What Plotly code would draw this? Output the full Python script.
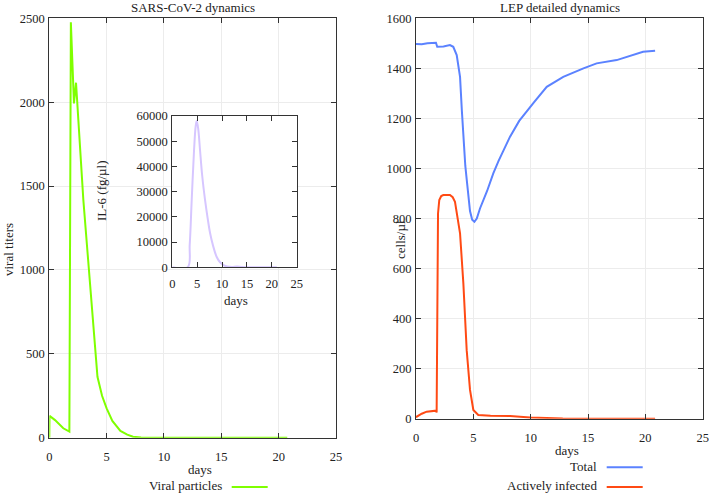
import plotly.graph_objects as go

# ---------------- data ----------------
days_vir = [0, 0.02, 0.5, 0.78, 1.22, 1.75, 1.88, 2.15, 2.33, 2.97, 3.4, 3.84, 4.2, 4.6,
            5.0, 5.5, 6.2, 6.8, 7.3, 8.0, 9.0, 12, 16, 20.75]
viral = [0, 130, 105, 86, 56, 36, 2476, 1993, 2116, 1416, 1059, 661, 363, 250,
         175, 100, 40, 18, 6, 1, 0, 0, 0, 0]

days_il6 = [0, 3.1, 3.5, 3.9, 4.37, 4.7, 4.9, 5.2, 5.57, 6.0, 6.58, 7.1, 7.6, 8.2,
            8.9, 9.6, 10.3, 11, 12, 13, 14, 16, 21]
il6 = [0, 0, 9000, 26700, 46500, 56000, 58000, 55000, 46500, 36500, 26700, 19500,
       13500, 8500, 4200, 2000, 900, 300, 100, 300, 100, 0, 0]

days_lep = [0, 0.5, 1.0, 1.74, 1.85, 2.4, 2.96, 3.25, 3.55, 3.84, 4.0, 4.13, 4.3, 4.48,
            4.71, 4.9, 5.09, 5.3, 5.58, 6.2, 6.74, 7.2, 7.62, 8.2, 9.0, 9.94, 10.3,
            11.4, 12.84, 14.6, 15.75, 17.5, 19.8, 20.85]
total = [1497, 1496, 1500, 1502, 1486, 1487, 1493, 1486, 1453, 1366, 1230, 1113, 1010, 930,
         830, 795, 787, 800, 840, 910, 980, 1030, 1073, 1127, 1190, 1247, 1265,
         1326, 1366, 1400, 1420, 1433, 1466, 1470]

days_inf = [0, 0.06, 0.5, 0.93, 1.74, 1.8, 1.92, 2.03, 2.2, 2.38, 2.96, 3.2, 3.4, 3.84,
            4.13, 4.42, 4.71, 5.0, 5.43, 6.5, 8.2, 9.94, 12.8, 20.85]
infected = [10, 8, 20, 28, 32, 25, 820, 874, 890, 894, 894, 885, 867, 741,
            541, 274, 115, 35, 15, 12, 11, 5, 1, 0]

x_ticks_step = 5
FONT = "Liberation Serif"
TXT = "#222222"
AX = "#333333"
GRID = "#ececec"

W, H = 709, 493


def px(x):
    return x / W


def py(y):
    return 1 - y / H


def axis(domain, rng, dtick, anchor, grid=True, standoff=0):
    return dict(domain=domain, range=rng, dtick=dtick, tick0=0, anchor=anchor,
                showgrid=grid, gridcolor=GRID, gridwidth=1, showline=True,
                linecolor=AX, linewidth=1, mirror="allticks", ticks="inside",
                ticklen=5, tickcolor=AX, zeroline=False, fixedrange=True,
                automargin=False, tickformat="d", exponentformat="none",
                ticklabelstandoff=standoff,
                tickfont=dict(family=FONT, size=12.5, color=TXT))


fig = go.Figure()
fig.add_trace(go.Scatter(x=days_vir, y=viral, mode="lines", xaxis="x", yaxis="y",
                         line=dict(color="#7fff00", width=2), showlegend=False))
fig.add_trace(go.Scatter(x=days_il6, y=il6, mode="lines", xaxis="x3", yaxis="y3",
                         line=dict(color="#d6c6ff", width=2, shape="spline"), showlegend=False))
fig.add_trace(go.Scatter(x=days_lep, y=total, mode="lines", xaxis="x2", yaxis="y2",
                         line=dict(color="#5b82ff", width=2), showlegend=False))
fig.add_trace(go.Scatter(x=days_inf, y=infected, mode="lines", xaxis="x2", yaxis="y2",
                         line=dict(color="#ff4a14", width=2), showlegend=False))

xrng = [0, 25]
fig.update_layout(
    width=W, height=H, margin=dict(l=0, r=0, t=0, b=0),
    paper_bgcolor="white", plot_bgcolor="white",
    xaxis=axis([px(49.3), px(336)], xrng, x_ticks_step, "y", standoff=7),
    yaxis=axis([py(437.7), py(18.3)], [0, 2500], 500, "x", standoff=1),
    xaxis2=axis([px(416), px(702.7)], xrng, x_ticks_step, "y2", standoff=7),
    yaxis2=axis([py(418.7), py(18.3)], [0, 1600], 200, "x2", standoff=1),
    xaxis3=axis([px(172.3), px(296.7)], xrng, x_ticks_step, "y3", grid=False, standoff=5),
    yaxis3=axis([py(267.3), py(116)], [0, 60000], 10000, "x3", grid=False, standoff=1),
)

# white background for the inset
fig.add_shape(type="rect", xref="x3", yref="y3", x0=xrng[0], x1=xrng[1], y0=0, y1=60000,
              fillcolor="white", line=dict(width=0), layer="below")

ann = []


def text(t, x, y, angle=0, xanchor="center", size=13):
    ann.append(dict(text=t, x=px(x), y=py(y), xref="paper", yref="paper", showarrow=False,
                    xanchor=xanchor, yanchor="middle", textangle=angle, borderpad=0,
                    font=dict(family=FONT, size=size, color=TXT)))


text("SARS-CoV-2 dynamics", 192.5, 7)
text("LEP detailed dynamics", 559.7, 7)
text("days", 200, 469)
text("days", 567, 450.7)
text("days", 236, 300)
text("viral titers", 8, 250, angle=-90)
text("cells/µl", 400, 240, angle=-90)
text("IL-6 (fg/µl)", 102, 191, angle=-90)
text("Viral particles", 223, 485.5, xanchor="right")
text("Total", 598, 466.5, xanchor="right")
text("Actively infected", 598, 485.5, xanchor="right")
fig.update_layout(annotations=ann)

for (x0, x1, y, c) in [(231.7, 267.7, 487, "#7fff00"), (606.7, 642.7, 467.3, "#5b82ff"),
                       (606.7, 642.7, 487, "#ff4a14")]:
    fig.add_shape(type="line", xref="paper", yref="paper", x0=px(x0), x1=px(x1),
                  y0=py(y), y1=py(y), line=dict(color=c, width=2))

fig.write_html("out.html", config={"displayModeBar": False},
               post_script="document.body.style.margin='0';document.body.style.overflow='hidden';")
